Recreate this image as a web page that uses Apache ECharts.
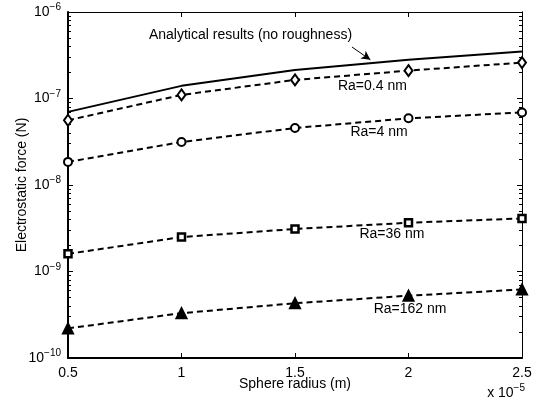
<!DOCTYPE html>
<html>
<head>
    <meta charset="utf-8">
    <style>
        html, body { height: 100%; }
        * { margin: 0; padding: 0; }
        #container { width: 537px; height: 402px; background: #fff; }
    </style>
</head>
<body>
<div id="container"></div>
<script type="text/javascript" src="https://cdn.jsdelivr.net/npm/echarts@6/dist/echarts.min.js"></script>
<script type="text/javascript">
    // sphere radius, in units of 1e-5 m
    let radius = [0.5, 1, 1.5, 2, 2.5];
    let analytical = [7.0e-8, 1.4e-7, 2.14e-7, 2.8e-7, 3.5e-7];
    let ra04 = [5.6e-8, 1.1e-7, 1.64e-7, 2.1e-7, 2.6e-7];
    let ra4 = [1.85e-8, 3.14e-8, 4.56e-8, 5.9e-8, 6.9e-8];
    let ra36 = [1.6e-9, 2.5e-9, 3.1e-9, 3.66e-9, 4.1e-9];
    let ra162 = [2.2e-10, 3.3e-10, 4.3e-10, 5.25e-10, 6.2e-10];

    // minor ticks (2..9 of every decade), as log10 positions
    let minorTicks = [];
    for (let e = -10; e < -6; e++) {
        for (let m = 2; m <= 9; m++) {
            minorTicks.push(e + Math.log10(m));
        }
    }

    let dom = document.getElementById("container");
    let myChart = echarts.init(dom);
    let font = 'Liberation Sans, Arial, sans-serif';

    function pairs(ys) {
        return radius.map(function (x, i) { return [x, ys[i]]; });
    }

    function logLabel(v) {
        let e = Math.round(Math.log10(v));
        return '10{sup|' + String(e).replace('-', '\u2212') + '}';
    }

    let labelRich = {
        sup: { fontSize: 10, verticalAlign: 'top', padding: [0, 0, 9, 0], color: '#000', fontFamily: font }
    };

    function annotate(text, coord) {
        return {
            symbol: 'circle',
            symbolSize: 0,
            label: { show: true, position: 'inside', color: '#000', fontSize: 14, fontFamily: font,
                formatter: text },
            data: [{ coord: coord }]
        };
    }

    function dashed(name, ys, symbol, size, filled, border, ann) {
        return {
            name: name,
            type: 'line',
            data: pairs(ys),
            symbol: symbol,
            symbolSize: size,
            showAllSymbol: true,
            itemStyle: { color: filled ? '#000' : '#fff', borderColor: '#000', borderWidth: border },
            lineStyle: { color: '#000', width: 2, type: [6, 4] },
            z: 3,
            markPoint: annotate(name, ann)
        };
    }

    // value axis in log10 units, only used to place the minor ticks
    function minorAxis(pos) {
        return {
            type: 'value',
            position: pos,
            min: -10,
            max: -6,
            axisLine: { show: true, lineStyle: { color: '#000', width: 1 } },
            axisTick: { show: true, inside: true, length: 3, customValues: minorTicks,
                lineStyle: { color: '#000', width: 1 } },
            axisLabel: { show: false },
            splitLine: { show: false }
        };
    }

    let option = {
        animation: false,
        backgroundColor: '#fff',
        grid: { left: 68, right: 15, top: 12, bottom: 44, outerBoundsMode: 'none' },
        xAxis: [{
            type: 'value',
            min: 0.5,
            max: 2.5,
            interval: 0.5,
            name: 'Sphere radius (m)',
            nameLocation: 'middle',
            nameGap: 19,
            nameMoveOverlap: false,
            nameTextStyle: { color: '#000', fontSize: 14, fontFamily: font },
            axisLine: { lineStyle: { color: '#000', width: 2 } },
            axisTick: { inside: true, length: 5, lineStyle: { color: '#000' } },
            axisLabel: { color: '#000', fontSize: 14, fontFamily: font, margin: 8 },
            splitLine: { show: false }
        }, {
            type: 'value',
            position: 'top',
            min: 0.5,
            max: 2.5,
            interval: 0.5,
            axisLine: { lineStyle: { color: '#000', width: 1 } },
            axisTick: { inside: true, length: 5, lineStyle: { color: '#000' } },
            axisLabel: { show: false },
            splitLine: { show: false }
        }],
        yAxis: [{
            type: 'log',
            logBase: 10,
            min: 1e-10,
            max: 1e-6,
            name: 'Electrostatic force (N)',
            nameLocation: 'middle',
            nameGap: 39,
            nameMoveOverlap: false,
            nameTextStyle: { color: '#000', fontSize: 14, fontFamily: font },
            axisLine: { lineStyle: { color: '#000', width: 2 } },
            axisTick: { inside: true, length: 5, lineStyle: { color: '#000' } },
            axisLabel: { color: '#000', fontSize: 14, fontFamily: font, margin: 7,
                formatter: logLabel, rich: labelRich },
            splitLine: { show: false }
        }, minorAxis('left'), {
            type: 'log',
            position: 'right',
            min: 1e-10,
            max: 1e-6,
            axisLine: { lineStyle: { color: '#000', width: 1 } },
            axisTick: { inside: true, length: 5, lineStyle: { color: '#000' } },
            axisLabel: { show: false },
            splitLine: { show: false }
        }, minorAxis('right')],
        graphic: [{
            type: 'text',
            right: 12,
            bottom: 2,
            style: {
                text: 'x 10{sup|\u22125}',
                fill: '#000',
                fontSize: 14,
                fontFamily: font,
                rich: labelRich
            }
        }],
        series: [{
            name: 'Analytical results (no roughness)',
            type: 'line',
            data: pairs(analytical),
            symbol: 'none',
            lineStyle: { color: '#000', width: 2 },
            z: 3,
            markPoint: annotate('Analytical results (no roughness)', [1.304, 5.42e-7]),
            markLine: {
                silent: true,
                symbol: ['none', 'arrow'],
                symbolSize: [7, 9],
                label: { show: false },
                lineStyle: { color: '#000', width: 1, type: 'solid' },
                data: [[{ coord: [1.751, 3.94e-7] }, { coord: [1.832, 2.8e-7] }]]
            }
        },
            dashed('Ra=0.4 nm', ra04, 'diamond', [8, 11], false, 2, [1.841, 1.38e-7]),
            dashed('Ra=4 nm', ra4, 'circle', 8, false, 2, [1.870, 4.13e-8]),
            dashed('Ra=36 nm', ra36, 'rect', 7, false, 2.5, [1.927, 2.72e-9]),
            dashed('Ra=162 nm', ra162, 'triangle', 10, true, 2, [2.007, 3.68e-10])
        ]
    };
    myChart.setOption(option);
</script>
</body>
</html>
